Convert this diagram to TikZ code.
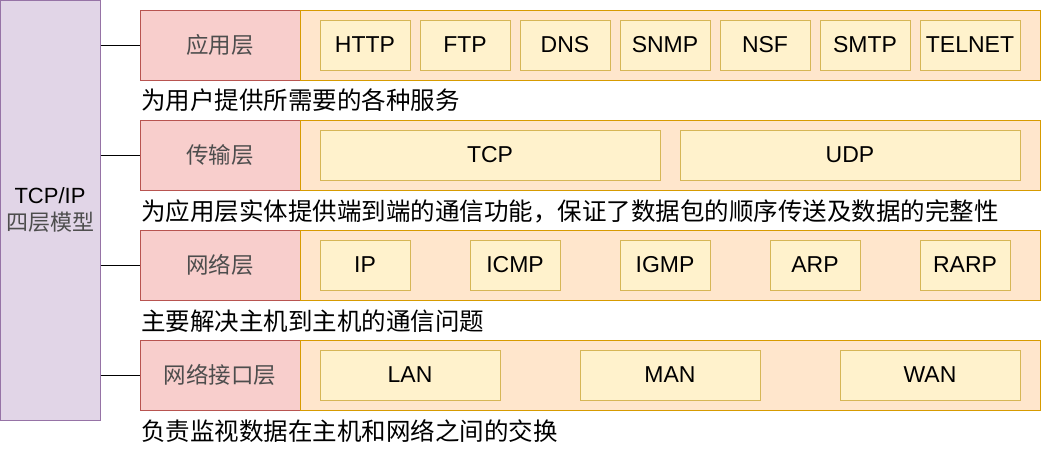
\documentclass[tikz,border=0pt]{standalone}
\usepackage{fontspec}
\setmainfont{Liberation Sans}
\newfontfamily\cjk{Noto Sans CJK SC}
\definecolor{purfill}{HTML}{E1D5E7}
\definecolor{purdraw}{HTML}{9673A6}
\definecolor{redfill}{HTML}{F8CECC}
\definecolor{reddraw}{HTML}{B85450}
\definecolor{orafill}{HTML}{FFE6CC}
\definecolor{oradraw}{HTML}{D79B00}
\definecolor{yelfill}{HTML}{FFF2CC}
\definecolor{yeldraw}{HTML}{D6B656}
\definecolor{lbl}{HTML}{4D4D4D}
\tikzset{
  model/.style={draw=purdraw, fill=purfill, line width=1pt, minimum width=100, minimum height=420, inner sep=0, align=center, font=\fontsize{22}{27}\selectfont},
  layer/.style={draw=reddraw, fill=redfill, line width=1pt, minimum width=160, minimum height=70, inner sep=0, text=lbl, font=\cjk\fontsize{22.5}{26}\selectfont},
  band/.style={draw=oradraw, fill=orafill, line width=1pt, minimum width=740, minimum height=70, inner sep=0},
  proto/.style={draw=yeldraw, fill=yelfill, line width=1pt, minimum height=50, inner sep=0, font=\fontsize{23}{26}\selectfont},
  desc/.style={anchor=west, inner sep=0, font=\cjk\fontsize{24.5}{28}\selectfont},
  link/.style={line width=1pt, draw=black}
}
\begin{document}
\begin{tikzpicture}[x=1pt,y=-1pt]
\path[use as bounding box] (0,0) rectangle (1041,451);
\node[model] (m) at (50,210) {TCP/IP\\{\cjk\color{lbl}四层模型}};
% row 1
\node[layer] (l1) at (220,45) {应用层};
\node[band] (b1) at (670,45) {};
\node[proto, minimum width=90] (p11) at (365,45) {HTTP};
\node[proto, minimum width=90] (p12) at (465,45) {FTP};
\node[proto, minimum width=90] (p13) at (565,45) {DNS};
\node[proto, minimum width=90] (p14) at (665,45) {SNMP};
\node[proto, minimum width=90] (p15) at (765,45) {NSF};
\node[proto, minimum width=90] (p16) at (865,45) {SMTP};
\node[proto, minimum width=100] (p17) at (970,45) {TELNET};
\node[desc] (d1) at (141,100) {为用户提供所需要的各种服务};
% row 2
\node[layer] (l2) at (220,155) {传输层};
\node[band] (b2) at (670,155) {};
\node[proto, minimum width=340] (p21) at (490,155) {TCP};
\node[proto, minimum width=340] (p22) at (850,155) {UDP};
\node[desc] (d2) at (141,211) {为应用层实体提供端到端的通信功能，保证了数据包的顺序传送及数据的完整性};
% row 3
\node[layer] (l3) at (220,265) {网络层};
\node[band] (b3) at (670,265) {};
\node[proto, minimum width=90] (p31) at (365,265) {IP};
\node[proto, minimum width=90] (p32) at (515,265) {ICMP};
\node[proto, minimum width=90] (p33) at (665,265) {IGMP};
\node[proto, minimum width=90] (p34) at (815,265) {ARP};
\node[proto, minimum width=90] (p35) at (965,265) {RARP};
\node[desc] (d3) at (141,321) {主要解决主机到主机的通信问题};
% row 4
\node[layer] (l4) at (220,375) {网络接口层};
\node[band] (b4) at (670,375) {};
\node[proto, minimum width=180] (p41) at (410,375) {LAN};
\node[proto, minimum width=180] (p42) at (670,375) {MAN};
\node[proto, minimum width=180] (p43) at (930,375) {WAN};
\node[desc] (d4) at (141,431) {负责监视数据在主机和网络之间的交换};
% links
\draw[link] (m.east |- l1.west) -- (l1.west);
\draw[link] (m.east |- l2.west) -- (l2.west);
\draw[link] (m.east |- l3.west) -- (l3.west);
\draw[link] (m.east |- l4.west) -- (l4.west);
\end{tikzpicture}
\end{document}
